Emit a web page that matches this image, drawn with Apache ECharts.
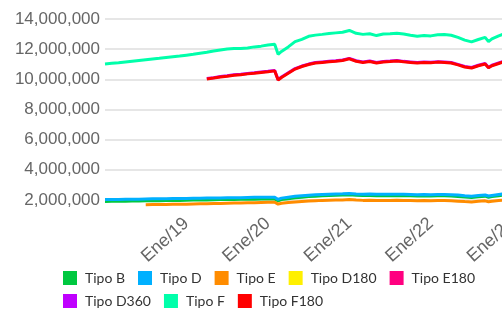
<!DOCTYPE html>
<html>
<head>
<meta charset="utf-8">
<script src="https://cdn.jsdelivr.net/npm/echarts@6/dist/echarts.min.js"></script>
<style>
  html, body { margin: 0; padding: 0; background: #fff; }
  #chart { width: 502px; height: 312px; }
</style>
</head>
<body>
<div id="chart"></div>
<script>
// fechas de cada punto (mensual, con dos puntos a mitad de mes)
var fechas = [
  '2018-01', '2018-02', '2018-03', '2018-04', '2018-05', '2018-06', '2018-07', '2018-08', '2018-09', '2018-10', '2018-11', '2018-12',
  '2019-01', '2019-02', '2019-03', '2019-04', '2019-05', '2019-06', '2019-07', '2019-08', '2019-09', '2019-10', '2019-11', '2019-12',
  '2020-01', '2020-02', '2020-02-16', '2020-03', '2020-04', '2020-05', '2020-06', '2020-07', '2020-08', '2020-09', '2020-10', '2020-11', '2020-12',
  '2021-01', '2021-02', '2021-03', '2021-04', '2021-05', '2021-06', '2021-07', '2021-08', '2021-09', '2021-10', '2021-11', '2021-12',
  '2022-01', '2022-02', '2022-03', '2022-04', '2022-05', '2022-06', '2022-07', '2022-08', '2022-09', '2022-09-16', '2022-10', '2022-11', '2022-12',
  '2023-01', '2023-02', '2023-03', '2023-04', '2023-05', '2023-06', '2023-07'
]

var tipoB = [
  1.90e6, 1.91e6, 1.91e6, 1.92e6, 1.93e6, 1.93e6, 1.94e6, 1.95e6, 1.95e6, 1.96e6, 1.97e6, 1.97e6,
  1.98e6, 1.99e6, 1.99e6, 2.00e6, 2.01e6, 2.02e6, 2.02e6, 2.03e6, 2.04e6, 2.04e6, 2.05e6, 2.06e6,
  2.06e6, 2.07e6, 1.94e6, 2.02e6, 2.08e6, 2.14e6, 2.18e6, 2.22e6, 2.25e6, 2.27e6, 2.29e6, 2.31e6, 2.32e6,
  2.34e6, 2.31e6, 2.29e6, 2.30e6, 2.28e6, 2.29e6, 2.28e6, 2.29e6, 2.28e6, 2.27e6, 2.26e6, 2.27e6,
  2.26e6, 2.27e6, 2.27e6, 2.26e6, 2.23e6, 2.19e6, 2.16e6, 2.21e6, 2.25e6, 2.18e6, 2.22e6, 2.28e6, 2.33e6,
  2.36e6, 2.38e6, 2.39e6, 2.40e6, 2.41e6, 2.42e6, 2.43e6
]

var tipoD = [
  2.02e6, 2.03e6, 2.03e6, 2.04e6, 2.05e6, 2.05e6, 2.06e6, 2.07e6, 2.07e6, 2.08e6, 2.09e6, 2.09e6,
  2.10e6, 2.11e6, 2.11e6, 2.12e6, 2.13e6, 2.13e6, 2.14e6, 2.15e6, 2.15e6, 2.16e6, 2.17e6, 2.17e6,
  2.18e6, 2.18e6, 2.03e6, 2.12e6, 2.18e6, 2.24e6, 2.28e6, 2.31e6, 2.34e6, 2.36e6, 2.38e6, 2.40e6, 2.41e6,
  2.43e6, 2.40e6, 2.38e6, 2.39e6, 2.37e6, 2.38e6, 2.37e6, 2.38e6, 2.37e6, 2.36e6, 2.35e6, 2.36e6,
  2.35e6, 2.36e6, 2.36e6, 2.35e6, 2.32e6, 2.28e6, 2.25e6, 2.29e6, 2.33e6, 2.26e6, 2.30e6, 2.36e6, 2.41e6,
  2.44e6, 2.46e6, 2.47e6, 2.48e6, 2.49e6, 2.50e6, 2.51e6
]

var tipoE = [
  null, null, null, null, null, null, 1.68e6, 1.69e6, 1.69e6, 1.70e6, 1.71e6, 1.72e6,
  1.72e6, 1.73e6, 1.74e6, 1.75e6, 1.76e6, 1.77e6, 1.78e6, 1.79e6, 1.80e6, 1.81e6, 1.82e6, 1.83e6,
  1.84e6, 1.85e6, 1.72e6, 1.78e6, 1.83e6, 1.87e6, 1.90e6, 1.93e6, 1.95e6, 1.97e6, 1.98e6, 1.99e6, 2.00e6,
  2.02e6, 1.99e6, 1.97e6, 1.98e6, 1.96e6, 1.97e6, 1.97e6, 1.98e6, 1.97e6, 1.96e6, 1.95e6, 1.96e6,
  1.95e6, 1.96e6, 1.96e6, 1.95e6, 1.92e6, 1.89e6, 1.87e6, 1.91e6, 1.94e6, 1.88e6, 1.91e6, 1.96e6, 2.00e6,
  2.03e6, 2.05e6, 2.06e6, 2.07e6, 2.08e6, 2.09e6, 2.10e6
]

// sin datos visibles en el periodo
var tipoD180 = []
var tipoE180 = []

var tipoD360 = [
  null, null, null, null, null, null, null, null, null, null, null, null,
  null, null, null, 10.05e6, 10.11e6, 10.18e6, 10.23e6, 10.30e6, 10.33e6, 10.39e6, 10.43e6, 10.48e6,
  10.53e6, 10.59e6, 9.98e6, 10.15e6, 10.43e6, 10.71e6, 10.88e6, 11.01e6, 11.11e6, 11.15e6, 11.19e6, 11.23e6, 11.28e6,
  11.39e6, 11.23e6, 11.15e6, 11.21e6, 11.11e6, 11.18e6, 11.21e6, 11.25e6, 11.19e6, 11.15e6, 11.11e6, 11.15e6,
  11.13e6, 11.17e6, 11.15e6, 11.11e6, 10.99e6, 10.85e6, 10.78e6, 10.93e6, 11.05e6, 10.79e6, 10.93e6, 11.08e6, 11.23e6,
  11.35e6, 11.41e6, 11.45e6, 11.43e6, 11.49e6, 11.53e6, 11.57e6
]

var tipoF = [
  11.02e6, 11.06e6, 11.10e6, 11.15e6, 11.20e6, 11.25e6, 11.30e6, 11.35e6, 11.39e6, 11.44e6, 11.49e6, 11.54e6,
  11.60e6, 11.66e6, 11.73e6, 11.80e6, 11.88e6, 11.95e6, 12.01e6, 12.05e6, 12.04e6, 12.08e6, 12.15e6, 12.20e6,
  12.27e6, 12.33e6, 11.66e6, 11.85e6, 12.15e6, 12.50e6, 12.65e6, 12.85e6, 12.93e6, 12.98e6, 13.04e6, 13.08e6, 13.12e6,
  13.24e6, 13.05e6, 12.98e6, 13.02e6, 12.90e6, 13.00e6, 13.02e6, 13.05e6, 13.00e6, 12.92e6, 12.85e6, 12.90e6,
  12.88e6, 12.95e6, 12.97e6, 12.92e6, 12.78e6, 12.60e6, 12.48e6, 12.64e6, 12.78e6, 12.50e6, 12.68e6, 12.88e6, 13.05e6,
  13.20e6, 13.26e6, 13.30e6, 13.28e6, 13.34e6, 13.38e6, 13.42e6
]

var tipoF180 = [
  null, null, null, null, null, null, null, null, null, null, null, null,
  null, null, null, 10.02e6, 10.08e6, 10.15e6, 10.20e6, 10.27e6, 10.30e6, 10.36e6, 10.40e6, 10.45e6,
  10.50e6, 10.56e6, 9.95e6, 10.12e6, 10.40e6, 10.68e6, 10.85e6, 10.98e6, 11.08e6, 11.12e6, 11.16e6, 11.20e6, 11.25e6,
  11.36e6, 11.20e6, 11.12e6, 11.18e6, 11.08e6, 11.15e6, 11.18e6, 11.22e6, 11.16e6, 11.12e6, 11.08e6, 11.12e6,
  11.10e6, 11.14e6, 11.12e6, 11.08e6, 10.96e6, 10.82e6, 10.75e6, 10.90e6, 11.02e6, 10.76e6, 10.90e6, 11.05e6, 11.20e6,
  11.32e6, 11.38e6, 11.42e6, 11.40e6, 11.46e6, 11.50e6, 11.54e6
]

var nombres = ['Tipo B', 'Tipo D', 'Tipo E', 'Tipo D180', 'Tipo E180', 'Tipo D360', 'Tipo F', 'Tipo F180']
var colores = ['#00c840', '#00b0ff', '#ff8c00', '#fff000', '#ff0080', '#c000ff', '#00ffaa', '#ff0000']
var valores = [tipoB, tipoD, tipoE, tipoD180, tipoE180, tipoD360, tipoF, tipoF180]

// meses desde enero 2018
function mesDesde2018 (f) {
  var p = f.split('-').map(Number)
  var dia = p[2] || 1
  return (p[0] - 2018) * 12 + (p[1] - 1) + (dia - 1) / 30
}

function puntos (vals) {
  var out = []
  vals.forEach(function (v, i) {
    if (v != null) out.push([mesDesde2018(fechas[i]), v])
  })
  return out
}

var chart = echarts.init(document.getElementById('chart'))

var series = nombres.map(function (n, i) {
  return {
    name: n,
    type: 'line',
    showSymbol: false,
    data: puntos(valores[i]),
    lineStyle: { width: 3, color: colores[i] },
    itemStyle: { color: colores[i] }
  }
})

var leyendaTexto = { fontFamily: 'Lato', fontSize: 14, color: '#333', padding: [0, 0, 0, 3] }

function leyenda (items, top) {
  return {
    data: items,
    left: 63,
    top: top,
    width: 480,
    padding: 0,
    icon: 'rect',
    itemWidth: 14,
    itemHeight: 14,
    itemGap: 13,
    textStyle: leyendaTexto
  }
}

chart.setOption({
  animation: false,
  color: colores,
  // el área del gráfico sigue más allá del borde derecho
  grid: { left: 105, top: 19, width: 448, height: 196, outerBoundsMode: 'none', containLabel: false },
  legend: [leyenda(nombres.slice(0, 5), 271), leyenda(nombres.slice(5), 294)],
  xAxis: {
    type: 'value',
    min: 0,
    max: 66,
    interval: 12,
    axisLine: { show: false },
    axisTick: { show: false },
    splitLine: { show: false },
    axisLabel: {
      rotate: 42,
      margin: 6,
      showMinLabel: false,
      showMaxLabel: false,
      color: '#666',
      fontFamily: 'Liberation Sans',
      fontSize: 18,
      formatter: function (v) { return 'Ene/' + (18 + v / 12) }
    }
  },
  yAxis: {
    type: 'value',
    min: 1000000,
    max: 14000000,
    interval: 1000000,
    axisLine: { show: false },
    axisTick: { show: false },
    splitLine: { lineStyle: { color: ['transparent', '#e6e6e6'], width: 2 } },
    axisLabel: {
      margin: 5,
      color: '#666',
      fontFamily: 'Liberation Sans',
      fontSize: 17,
      formatter: function (v) {
        return (v / 1000000) % 2 === 0 ? v.toLocaleString('en-US') : ''
      }
    }
  },
  series: series
})
</script>
</body>
</html>
